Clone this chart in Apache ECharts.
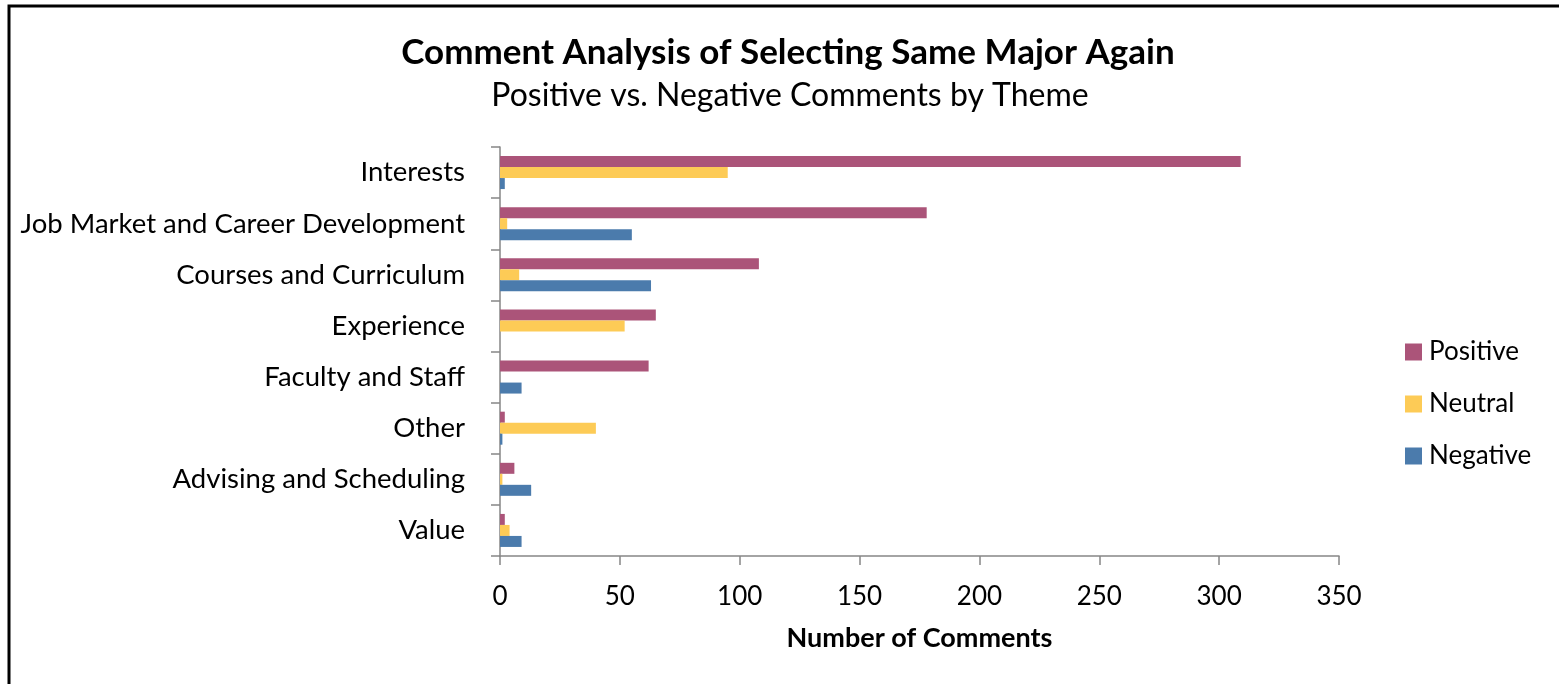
<!DOCTYPE html>
<html>
<head>
<meta charset="utf-8">
<title>Comment Analysis of Selecting Same Major Again</title>
<script src="https://cdn.jsdelivr.net/npm/echarts@6/dist/echarts.min.js"></script>
<style>
  html, body { margin: 0; padding: 0; background: #ffffff; }
  #chart { width: 1559px; height: 684px; }
</style>
</head>
<body>
<div id="chart"></div>
<script>
// Themes, listed top to bottom
const themes = [
  'Interests',
  'Job Market and Career Development',
  'Courses and Curriculum',
  'Experience',
  'Faculty and Staff',
  'Other',
  'Advising and Scheduling',
  'Value'
];

// Comment counts per theme
const positive = [309, 178, 108, 65, 62, 2, 6, 2];
const neutral  = [95, 3, 8, 52, 0, 40, 1, 4];
const negative = [2, 55, 63, 0, 9, 1, 13, 9];

// Value axis ticks
const axisMin = 0;
const axisMax = 350;
const axisStep = 50;

const FONT = 'Lato, "Open Sans", sans-serif';
const AXIS_GREY = '#868686';

const chart = echarts.init(document.getElementById('chart'), null, { renderer: 'canvas' });

function barSeries(name, data, color) {
  return {
    name: name,
    type: 'bar',
    data: data,
    barWidth: 11,
    barGap: '0%',
    itemStyle: { color: color },
    emphasis: { disabled: true },
    animation: false
  };
}

chart.setOption({
  animation: false,
  backgroundColor: '#ffffff',
  textStyle: { fontFamily: FONT },
  title: [
    {
      text: 'Comment Analysis of Selecting Same Major Again',
      left: 783,
      top: 30,
      textAlign: 'center',
      textStyle: { fontFamily: FONT, fontSize: 35, fontWeight: 'bold', color: '#000000' }
    },
    {
      text: 'Positive vs. Negative Comments by Theme',
      left: 785,
      top: 75,
      textAlign: 'center',
      textStyle: { fontFamily: FONT, fontSize: 32, fontWeight: 'normal', color: '#000000' }
    }
  ],
  graphic: [
    {
      type: 'polyline',
      shape: { points: [[9, 700], [9, 6], [1570, 6]] },
      style: { stroke: '#000000', lineWidth: 3, fill: null },
      silent: true
    }
  ],
  legend: {
    orient: 'vertical',
    left: 1405,
    top: 339,
    padding: 0,
    itemWidth: 17,
    itemHeight: 17,
    itemGap: 26,
    icon: 'rect',
    textStyle: { fontFamily: FONT, fontSize: 26, color: '#000000', lineHeight: 24, padding: [0, 0, 0, 2] },
    data: ['Positive', 'Neutral', 'Negative']
  },
  grid: {
    left: 500,
    right: 220,
    top: 147,
    bottom: 128,
    containLabel: false
  },
  xAxis: {
    type: 'value',
    min: axisMin,
    max: axisMax,
    interval: axisStep,
    name: 'Number of Comments',
    nameLocation: 'middle',
    nameGap: 69,
    nameTextStyle: { fontFamily: FONT, fontSize: 27, fontWeight: 'bold', color: '#000000' },
    axisLine: { show: true, lineStyle: { color: AXIS_GREY, width: 1.5 } },
    axisTick: { show: true, length: 9, lineStyle: { color: AXIS_GREY, width: 1.5 } },
    axisLabel: { fontFamily: FONT, fontSize: 26, color: '#000000', margin: 28 },
    splitLine: { show: false }
  },
  yAxis: {
    type: 'category',
    data: themes,
    inverse: true,
    axisLine: { show: true, lineStyle: { color: AXIS_GREY, width: 1.5 } },
    axisTick: { show: true, length: 9, alignWithLabel: false, lineStyle: { color: AXIS_GREY, width: 1.5 } },
    axisLabel: { fontFamily: FONT, fontSize: 27.5, color: '#000000', margin: 35 },
    splitLine: { show: false }
  },
  series: [
    barSeries('Positive', positive, '#AB5479'),
    barSeries('Neutral', neutral, '#FDCB56'),
    barSeries('Negative', negative, '#4B7BAC')
  ]
});
</script>
</body>
</html>
